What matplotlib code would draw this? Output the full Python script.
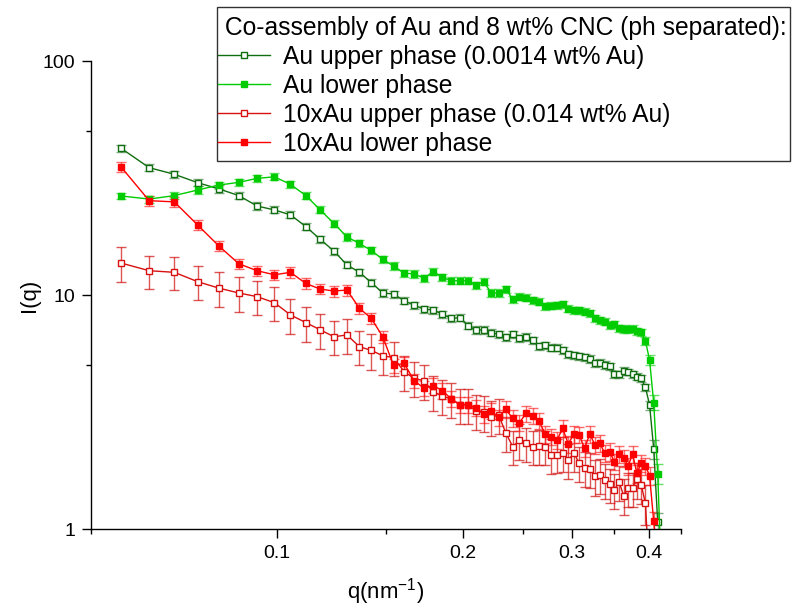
import matplotlib
matplotlib.use("Agg")
import matplotlib.pyplot as plt
from matplotlib.patches import Rectangle
from matplotlib.ticker import FixedLocator, FixedFormatter, NullFormatter

plt.rcParams['font.family'] = ['Liberation Sans', 'DejaVu Sans']
plt.rcParams['mathtext.default'] = 'regular'

# q grid (nm^-1), shared by all four curves
q = [0.0559, 0.0621, 0.0682, 0.0744, 0.0805, 0.0867, 0.0928, 0.0990, 0.1051, 0.1113,
     0.1174, 0.1236, 0.1297, 0.1359, 0.1420, 0.1482, 0.1543, 0.1605, 0.1666, 0.1728,
     0.1789, 0.1851, 0.1912, 0.1974, 0.2035, 0.2097, 0.2158, 0.2220, 0.2281, 0.2343,
     0.2404, 0.2466, 0.2527, 0.2589, 0.2650, 0.2712, 0.2773, 0.2835, 0.2896, 0.2958,
     0.3019, 0.3081, 0.3142, 0.3204, 0.3265, 0.3327, 0.3388, 0.3450, 0.3511, 0.3573,
     0.3634, 0.3696, 0.3757, 0.3819, 0.3880, 0.3942, 0.4003, 0.4065, 0.4126, 0.4188]

# Au upper phase (0.0014 wt% Au)
au_up = [42.4, 35.0, 32.8, 30.2, 28.4, 26.6, 24.0, 23.1, 22.0, 19.6,
         17.3, 15.4, 13.45, 12.5, 11.3, 10.2, 10.1, 9.45, 9.04, 8.69,
         8.63, 8.27, 7.94, 8.0, 7.39, 7.09, 7.09, 6.9, 6.79, 6.59,
         6.78, 6.54, 6.62, 6.4, 6.03, 6.1, 5.95, 5.95, 5.82, 5.58,
         5.52, 5.47, 5.42, 5.33, 5.10, 5.13, 5.02, 4.97, 4.59, 4.59,
         4.73, 4.69, 4.59, 4.48, 4.40, 4.03, 3.39, 2.20, 1.07]
au_up_err = [1.5, 1.2, 1.1, 1.0, 1.0, 0.9, 0.85, 0.8, 0.75, 0.7,
             0.6, 0.55, 0.47, 0.44, 0.4, 0.36, 0.35, 0.33, 0.32, 0.3,
             0.3, 0.29, 0.28, 0.28, 0.26, 0.25, 0.25, 0.24, 0.24, 0.23,
             0.24, 0.23, 0.23, 0.22, 0.21, 0.21, 0.21, 0.21, 0.2, 0.2,
             0.19, 0.19, 0.19, 0.19, 0.18, 0.18, 0.18, 0.17, 0.16, 0.16,
             0.17, 0.16, 0.16, 0.16, 0.15, 0.15, 0.15, 0.2, 0.1]

# Au lower phase
au_low = [26.5, 25.7, 26.6, 28.1, 29.5, 30.3, 31.5, 32.0, 29.7, 26.6,
          23.1, 20.2, 17.7, 16.6, 15.5, 14.2, 13.3, 12.4, 12.3, 11.8,
          12.6, 11.9, 11.5, 11.5, 11.5, 11.0, 11.4, 10.2, 10.2, 10.6,
          9.61, 9.84, 9.73, 9.52, 9.36, 8.97, 9.0, 9.06, 9.15, 8.74,
          8.63, 8.63, 8.48, 8.35, 7.95, 7.82, 7.69, 7.44, 7.52, 7.2,
          7.16, 7.14, 7.18, 7.0, 6.93, 6.36, 5.27, 3.47, 1.72, 0.6]
au_low_err = [0.9, 0.9, 0.9, 1.0, 1.0, 1.05, 1.1, 1.1, 1.0, 0.9,
              0.8, 0.7, 0.62, 0.58, 0.54, 0.5, 0.47, 0.43, 0.43, 0.41,
              0.44, 0.42, 0.4, 0.4, 0.4, 0.39, 0.4, 0.36, 0.36, 0.37,
              0.34, 0.34, 0.34, 0.33, 0.33, 0.31, 0.32, 0.32, 0.32, 0.31,
              0.3, 0.3, 0.3, 0.29, 0.28, 0.27, 0.27, 0.26, 0.26, 0.25,
              0.25, 0.25, 0.25, 0.25, 0.24, 0.24, 0.25, 0.25, 0.17, 0.1]

# 10xAu upper phase (0.014 wt% Au)
x10_up = [13.7, 12.7, 12.5, 11.4, 10.7, 10.2, 9.84, 9.27, 8.22, 7.62,
          7.1, 6.63, 6.75, 6.01, 5.8, 5.5, 5.4, 4.7, 4.4, 4.3,
          3.85, 3.7, 3.6, 3.4, 3.4, 3.2, 3.15, 3.0, 3.07, 2.58,
          2.25, 2.39, 2.32, 2.25, 2.26, 2.25, 2.07, 2.08, 2.11, 1.97,
          2.11, 1.91, 1.82, 1.80, 1.68, 1.70, 1.62, 1.55, 1.47, 1.59,
          1.39, 1.49, 1.49, 1.63, 1.54, 1.29, 0.6]
x10_up_err = [2.35, 2.05, 2.0, 1.9, 1.8, 1.7, 1.65, 1.55, 1.4, 1.3,
              1.2, 1.1, 1.15, 1.0, 1.0, 0.95, 0.9, 0.8, 0.75, 0.73,
              0.65, 0.63, 0.61, 0.58, 0.58, 0.54, 0.54, 0.51, 0.52, 0.44,
              0.38, 0.41, 0.39, 0.38, 0.38, 0.38, 0.35, 0.35, 0.36, 0.33,
              0.36, 0.32, 0.31, 0.31, 0.29, 0.29, 0.28, 0.26, 0.25, 0.27,
              0.24, 0.25, 0.25, 0.28, 0.26, 0.25, 0.1]

# 10xAu lower phase
x10_low = [35.3, 25.3, 25.0, 19.9, 16.2, 13.6, 12.7, 12.2, 12.5, 11.2,
           10.6, 10.4, 10.5, 8.77, 7.95, 6.63, 5.0, 5.1, 4.3, 4.0,
           4.1, 3.9, 3.6, 3.4, 3.4, 3.3, 3.1, 3.2, 3.0, 3.25,
           2.97, 2.85, 3.12, 3.05, 2.90, 2.55, 2.48, 2.40, 2.69, 2.31,
           2.55, 2.52, 2.21, 2.55, 2.29, 2.32, 2.11, 2.14, 1.94, 2.09,
           2.01, 1.86, 2.09, 1.73, 1.91, 1.86, 1.69, 1.08, 0.7]
x10_low_err = [1.6, 1.3, 1.3, 1.0, 0.85, 0.7, 0.65, 0.6, 0.65, 0.6,
               0.55, 0.55, 0.55, 0.5, 0.45, 0.4, 0.35, 0.35, 0.3, 0.3,
               0.3, 0.3, 0.28, 0.27, 0.27, 0.26, 0.25, 0.25, 0.24, 0.26,
               0.24, 0.23, 0.25, 0.24, 0.23, 0.21, 0.2, 0.2, 0.22, 0.19,
               0.21, 0.2, 0.18, 0.21, 0.19, 0.19, 0.17, 0.18, 0.16, 0.17,
               0.17, 0.16, 0.17, 0.15, 0.16, 0.16, 0.15, 0.1, 0.05]

labels = ["Au upper phase (0.0014 wt% Au)", "Au lower phase",
          "10xAu upper phase (0.014 wt% Au)", "10xAu lower phase"]

series = [
    (au_up, au_up_err, '#106e10', 'white', (0.15, 0.45, 0.15, 0.6)),
    (au_low, au_low_err, '#00cc00', '#00cc00', (0.0, 0.8, 0.0, 0.6)),
    (x10_up, x10_up_err, '#d81010', 'white', (0.82, 0.05, 0.05, 0.7)),
    (x10_low, x10_low_err, '#ff0000', '#ff0000', (1.0, 0.1, 0.1, 0.65)),
]

fig = plt.figure(figsize=(7.92, 6.10), dpi=100)
ax = fig.add_axes([91 / 792, 1 - 529 / 610, 590 / 792, 468 / 610])

handles = []
for (y, err, col, face, ecol), lab in zip(series, labels):
    cont = ax.errorbar(q[:len(y)], y, yerr=err, fmt='-s', color=col, lw=1.0,
                       ms=5.0, mfc=face, mec=col, mew=1.0,
                       ecolor=ecol, elinewidth=1.0, capsize=3.6, capthick=1.0)
    handles.append(cont.lines[0])

ax.set_xscale('log')
ax.set_yscale('log')
ax.set_xlim(0.05, 0.45)
ax.set_ylim(1, 100)

ax.xaxis.set_major_locator(FixedLocator([0.1, 0.2, 0.3, 0.4]))
ax.xaxis.set_major_formatter(FixedFormatter(['0.1', '0.2', '0.3', '0.4']))
ax.xaxis.set_minor_locator(FixedLocator([0.05, 0.15, 0.25, 0.35, 0.45]))
ax.xaxis.set_minor_formatter(NullFormatter())
ax.yaxis.set_major_locator(FixedLocator([1, 10, 100]))
ax.yaxis.set_major_formatter(FixedFormatter(['1', '10', '100']))
ax.yaxis.set_minor_locator(FixedLocator([5, 50]))
ax.yaxis.set_minor_formatter(NullFormatter())

for s in ['top', 'right']:
    ax.spines[s].set_visible(False)
for s in ['left', 'bottom']:
    ax.spines[s].set_linewidth(1.0)
ax.tick_params(which='major', direction='out', length=6.5, width=1.0,
               labelsize=14, pad=5)
ax.tick_params(which='minor', direction='out', length=3.5, width=1.0)

ax.set_xlabel('q(nm$^{-1}$)', fontsize=16, labelpad=10)
ax.set_ylabel('I(q)', fontsize=16, labelpad=2)

# legend box drawn by hand so the padding can match the original
fig.patches.append(Rectangle((217 / 792, 1 - 161 / 610), 573 / 792, 154 / 610,
                             transform=fig.transFigure, fill=False,
                             edgecolor='#333333', lw=1.0))
leg = fig.legend(handles, labels, loc='upper left',
                 bbox_to_anchor=(218 / 792, 1 - 16 / 610),
                 title=' Co-assembly of Au and 8 wt% CNC (ph separated):',
                 fontsize=17.7, title_fontsize=17.7, alignment='left',
                 frameon=False, handlelength=2.1, handletextpad=0.55,
                 labelspacing=0.2, borderpad=0.0, borderaxespad=0.0)

fig.savefig('out.png', dpi=100)
